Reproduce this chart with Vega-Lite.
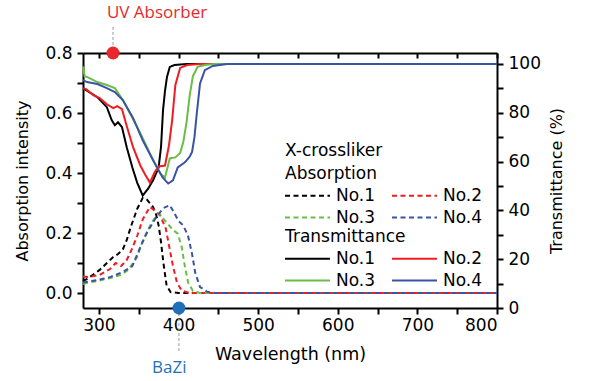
{
  "$schema": "https://vega.github.io/schema/vega-lite/v6.json",
  "width": 414,
  "height": 255,
  "autosize": "none",
  "padding": {"left": 83, "top": 53, "right": 104, "bottom": 73},
  "background": "white",
  "config": {
    "view": {"stroke": null},
    "axis": {
      "domainColor": "black", "domainWidth": 2, "tickColor": "black", "tickWidth": 2,
      "labelFont": "DejaVu Sans", "labelFontSize": 17, "labelColor": "black",
      "titleFont": "DejaVu Sans", "titleFontSize": 17, "titleFontWeight": "normal", "titleColor": "black",
      "grid": false
    }
  },
  "datasets": {
    "absorption": [
      {"s":"No.1","nm":280,"a":0.04},{"s":"No.1","nm":284,"a":0.045},{"s":"No.1","nm":292,"a":0.06},{"s":"No.1","nm":301,"a":0.077},{"s":"No.1","nm":310,"a":0.1},{"s":"No.1","nm":318,"a":0.12},{"s":"No.1","nm":324,"a":0.13},{"s":"No.1","nm":330,"a":0.145},{"s":"No.1","nm":335,"a":0.177},{"s":"No.1","nm":340,"a":0.22},{"s":"No.1","nm":348,"a":0.28},{"s":"No.1","nm":355,"a":0.317},{"s":"No.1","nm":360,"a":0.312},{"s":"No.1","nm":368,"a":0.287},{"s":"No.1","nm":372,"a":0.26},{"s":"No.1","nm":375,"a":0.225},{"s":"No.1","nm":378,"a":0.17},{"s":"No.1","nm":381,"a":0.1},{"s":"No.1","nm":385,"a":0.025},{"s":"No.1","nm":390,"a":0.003},{"s":"No.1","nm":400,"a":0},{"s":"No.1","nm":500,"a":0},{"s":"No.1","nm":650,"a":0},{"s":"No.1","nm":800,"a":0},
      {"s":"No.2","nm":280,"a":0.055},{"s":"No.2","nm":286,"a":0.053},{"s":"No.2","nm":301,"a":0.06},{"s":"No.2","nm":314,"a":0.08},{"s":"No.2","nm":321,"a":0.1},{"s":"No.2","nm":328,"a":0.09},{"s":"No.2","nm":335,"a":0.11},{"s":"No.2","nm":342,"a":0.15},{"s":"No.2","nm":348,"a":0.19},{"s":"No.2","nm":355,"a":0.245},{"s":"No.2","nm":364,"a":0.287},{"s":"No.2","nm":370,"a":0.275},{"s":"No.2","nm":377,"a":0.258},{"s":"No.2","nm":384,"a":0.215},{"s":"No.2","nm":389,"a":0.145},{"s":"No.2","nm":393,"a":0.09},{"s":"No.2","nm":398,"a":0.035},{"s":"No.2","nm":404,"a":0.008},{"s":"No.2","nm":414,"a":0},{"s":"No.2","nm":500,"a":0},{"s":"No.2","nm":650,"a":0},{"s":"No.2","nm":800,"a":0},
      {"s":"No.3","nm":280,"a":0.03},{"s":"No.3","nm":284,"a":0.033},{"s":"No.3","nm":298,"a":0.04},{"s":"No.3","nm":314,"a":0.05},{"s":"No.3","nm":327,"a":0.06},{"s":"No.3","nm":337,"a":0.077},{"s":"No.3","nm":348,"a":0.12},{"s":"No.3","nm":355,"a":0.173},{"s":"No.3","nm":364,"a":0.223},{"s":"No.3","nm":372,"a":0.258},{"s":"No.3","nm":376,"a":0.265},{"s":"No.3","nm":380,"a":0.25},{"s":"No.3","nm":386,"a":0.232},{"s":"No.3","nm":393,"a":0.21},{"s":"No.3","nm":399,"a":0.198},{"s":"No.3","nm":404,"a":0.153},{"s":"No.3","nm":408,"a":0.088},{"s":"No.3","nm":412,"a":0.035},{"s":"No.3","nm":418,"a":0.007},{"s":"No.3","nm":427,"a":0},{"s":"No.3","nm":500,"a":0},{"s":"No.3","nm":650,"a":0},{"s":"No.3","nm":800,"a":0},
      {"s":"No.4","nm":280,"a":0.035},{"s":"No.4","nm":284,"a":0.037},{"s":"No.4","nm":298,"a":0.043},{"s":"No.4","nm":314,"a":0.053},{"s":"No.4","nm":330,"a":0.07},{"s":"No.4","nm":342,"a":0.09},{"s":"No.4","nm":352,"a":0.153},{"s":"No.4","nm":360,"a":0.2},{"s":"No.4","nm":373,"a":0.257},{"s":"No.4","nm":381,"a":0.283},{"s":"No.4","nm":389,"a":0.293},{"s":"No.4","nm":395,"a":0.265},{"s":"No.4","nm":400,"a":0.24},{"s":"No.4","nm":406,"a":0.225},{"s":"No.4","nm":412,"a":0.19},{"s":"No.4","nm":417,"a":0.13},{"s":"No.4","nm":421,"a":0.067},{"s":"No.4","nm":427,"a":0.02},{"s":"No.4","nm":436,"a":0.004},{"s":"No.4","nm":446,"a":0},{"s":"No.4","nm":500,"a":0},{"s":"No.4","nm":650,"a":0},{"s":"No.4","nm":800,"a":0}
    ],
    "transmittance": [
      {"s":"No.1","nm":280,"t":90},{"s":"No.1","nm":284,"t":89.3},{"s":"No.1","nm":298,"t":86.4},{"s":"No.1","nm":310,"t":82.3},{"s":"No.1","nm":316,"t":77},{"s":"No.1","nm":320,"t":74.9},{"s":"No.1","nm":324,"t":76.1},{"s":"No.1","nm":329,"t":74.1},{"s":"No.1","nm":335,"t":65.8},{"s":"No.1","nm":342,"t":57.6},{"s":"No.1","nm":348,"t":51.4},{"s":"No.1","nm":355,"t":46.1},{"s":"No.1","nm":362,"t":49},{"s":"No.1","nm":368,"t":52.3},{"s":"No.1","nm":375,"t":57.6},{"s":"No.1","nm":378,"t":66},{"s":"No.1","nm":380.5,"t":81},{"s":"No.1","nm":383,"t":89},{"s":"No.1","nm":385.5,"t":94.7},{"s":"No.1","nm":389,"t":98.8},{"s":"No.1","nm":395,"t":99.6},{"s":"No.1","nm":410,"t":100},{"s":"No.1","nm":800,"t":100},
      {"s":"No.2","nm":280,"t":90},{"s":"No.2","nm":284,"t":89.7},{"s":"No.2","nm":293,"t":87.2},{"s":"No.2","nm":301,"t":86},{"s":"No.2","nm":310,"t":83.5},{"s":"No.2","nm":318,"t":81.9},{"s":"No.2","nm":323,"t":82.7},{"s":"No.2","nm":329,"t":81.5},{"s":"No.2","nm":335,"t":74.5},{"s":"No.2","nm":343,"t":65.8},{"s":"No.2","nm":352,"t":58.4},{"s":"No.2","nm":358,"t":54.7},{"s":"No.2","nm":364,"t":51.4},{"s":"No.2","nm":370,"t":55.6},{"s":"No.2","nm":375,"t":58},{"s":"No.2","nm":383,"t":58.4},{"s":"No.2","nm":388,"t":66.7},{"s":"No.2","nm":392,"t":77},{"s":"No.2","nm":396,"t":91.4},{"s":"No.2","nm":402,"t":98.4},{"s":"No.2","nm":411,"t":99.6},{"s":"No.2","nm":427,"t":100},{"s":"No.2","nm":800,"t":100},
      {"s":"No.3","nm":280,"t":99},{"s":"No.3","nm":282,"t":95},{"s":"No.3","nm":285,"t":94.7},{"s":"No.3","nm":298,"t":92.6},{"s":"No.3","nm":310,"t":91.4},{"s":"No.3","nm":320,"t":90.1},{"s":"No.3","nm":330,"t":85.2},{"s":"No.3","nm":339,"t":79.8},{"s":"No.3","nm":352,"t":71.6},{"s":"No.3","nm":364,"t":63.4},{"s":"No.3","nm":377,"t":55.1},{"s":"No.3","nm":383,"t":53.5},{"s":"No.3","nm":389,"t":61.3},{"s":"No.3","nm":396,"t":61.7},{"s":"No.3","nm":402,"t":63.5},{"s":"No.3","nm":406,"t":68},{"s":"No.3","nm":410,"t":76},{"s":"No.3","nm":414,"t":87},{"s":"No.3","nm":418,"t":95},{"s":"No.3","nm":424,"t":98.8},{"s":"No.3","nm":433,"t":99.6},{"s":"No.3","nm":445,"t":100},{"s":"No.3","nm":800,"t":100},
      {"s":"No.4","nm":280,"t":93.4},{"s":"No.4","nm":285,"t":92.6},{"s":"No.4","nm":298,"t":91.8},{"s":"No.4","nm":310,"t":90.1},{"s":"No.4","nm":320,"t":88.5},{"s":"No.4","nm":330,"t":85.2},{"s":"No.4","nm":343,"t":77.8},{"s":"No.4","nm":355,"t":68.7},{"s":"No.4","nm":368,"t":60.5},{"s":"No.4","nm":380,"t":53.5},{"s":"No.4","nm":387,"t":51},{"s":"No.4","nm":393,"t":52.3},{"s":"No.4","nm":399,"t":57.6},{"s":"No.4","nm":408,"t":59.7},{"s":"No.4","nm":414,"t":62},{"s":"No.4","nm":417,"t":64},{"s":"No.4","nm":420,"t":70},{"s":"No.4","nm":423,"t":80},{"s":"No.4","nm":427,"t":92},{"s":"No.4","nm":433,"t":97.5},{"s":"No.4","nm":443,"t":99.2},{"s":"No.4","nm":461,"t":100},{"s":"No.4","nm":800,"t":100}
    ],
    "markers": [
      {"label":"UV Absorber","nm":317.7,"v":0.8,"lineTop":0.887,"lineBottom":0.827,"textNm":310,"textV":0.918},
      {"label":"BaZi","nm":400.5,"v":-0.05,"lineTop":-0.067,"lineBottom":-0.2,"textNm":366.7,"textV":-0.267}
    ]
  },
  "layer": [
    {
      "data": {"name": "absorption"},
      "mark": {"type": "line", "strokeWidth": 2, "strokeDash": [5, 3.5]},
      "encoding": {
        "x": {"field": "nm", "type": "quantitative",
          "scale": {"domain": [280, 800], "nice": false, "zero": false},
          "axis": {"orient": "bottom", "values": [300,350,400,450,500,550,600,650,700,750,800],
            "labelExpr": "datum.value % 100 == 0 ? datum.label : ''", "format": "d",
            "tickSize": 6, "labelPadding": 3, "title": "Wavelength (nm)", "titleFontSize": 17.5, "titlePadding": 12}},
        "y": {"field": "a", "type": "quantitative",
          "scale": {"domain": [-0.05, 0.8], "nice": false, "zero": false},
          "axis": {"orient": "left", "values": [0,0.1,0.2,0.3,0.4,0.5,0.6,0.7,0.8],
            "labelExpr": "round(datum.value*10) % 2 == 0 ? datum.label : ''", "format": ".1f",
            "tickSize": 6, "labelPadding": 5, "title": "Absorption intensity", "titleFontSize": 16, "titlePadding": 14}},
        "color": {"field": "s", "type": "nominal",
          "scale": {"domain": ["No.1","No.3","No.2","No.4"], "range": ["#000000","#6abd45","#ee1d24","#3a53a4"]},
          "legend": {"title": ["X-crossliker", "Absorption"], "orient": "none", "legendX": 202, "legendY": 90,
            "columns": 2, "symbolType": "M-5,0L5,0", "symbolSize": 81, "symbolStrokeWidth": 2, "symbolDash": [5, 3.5],
            "symbolOffset": 14, "labelOffset": 20, "columnPadding": 12, "rowPadding": 4, "titlePadding": 4,
            "titleLineHeight": 23, "padding": 0, "labelFont": "DejaVu Sans", "labelFontSize": 17, "labelColor": "black",
            "titleFont": "DejaVu Sans", "titleFontSize": 17, "titleFontWeight": "normal", "titleColor": "black"}},
        "detail": {"field": "s"}
      }
    },
    {
      "data": {"name": "transmittance"},
      "mark": {"type": "line", "strokeWidth": 2},
      "encoding": {
        "x": {"field": "nm", "type": "quantitative",
          "scale": {"domain": [280, 800], "nice": false, "zero": false},
          "axis": {"orient": "top", "values": [300,350,400,450,500,550,600,650,700,750,800],
            "labels": false, "tickSize": -5, "title": null}},
        "y": {"field": "t", "type": "quantitative",
          "scale": {"domain": [0, 104.5], "nice": false, "zero": false},
          "axis": {"orient": "right", "values": [0,10,20,30,40,50,60,70,80,90,100],
            "labelExpr": "datum.value % 20 == 0 ? datum.label : ''",
            "tickSize": 6, "labelPadding": 5, "title": "Transmittance (%)", "titleFontSize": 16, "titleAngle": -90, "titlePadding": 24}},
        "color": {"field": "s", "type": "nominal",
          "scale": {"domain": ["No.1","No.3","No.2","No.4"], "range": ["#000000","#6abd45","#ee1d24","#3a53a4"]},
          "legend": {"title": "Transmittance", "orient": "none", "legendX": 202, "legendY": 176,
            "columns": 2, "symbolType": "M-5,0L5,0", "symbolSize": 81, "symbolStrokeWidth": 2,
            "symbolOffset": 14, "labelOffset": 20, "columnPadding": 12, "rowPadding": 4, "titlePadding": 4,
            "padding": 0, "labelFont": "DejaVu Sans", "labelFontSize": 17, "labelColor": "black",
            "titleFont": "DejaVu Sans", "titleFontSize": 17, "titleFontWeight": "normal", "titleColor": "black"}},
        "detail": {"field": "s"}
      }
    },
    {
      "data": {"name": "markers"},
      "layer": [
        {
          "mark": {"type": "rule", "color": "#9a9a9a", "strokeWidth": 1, "strokeDash": [3, 2]},
          "encoding": {
            "x": {"field": "nm", "type": "quantitative", "scale": {"domain": [280, 800], "nice": false, "zero": false}, "axis": null},
            "y": {"field": "lineTop", "type": "quantitative", "scale": {"domain": [-0.05, 0.8], "nice": false, "zero": false}, "axis": null},
            "y2": {"field": "lineBottom"}
          }
        },
        {
          "mark": {"type": "point", "shape": "circle", "filled": true, "size": 169, "opacity": 1},
          "encoding": {
            "x": {"field": "nm", "type": "quantitative", "axis": null},
            "y": {"field": "v", "type": "quantitative", "axis": null},
            "color": {"field": "label", "type": "nominal", "legend": null,
              "scale": {"domain": ["UV Absorber", "BaZi"], "range": ["#e8282b", "#1f6fba"]}}
          }
        },
        {
          "mark": {"type": "text", "align": "left", "baseline": "alphabetic", "font": "Open Sans", "fontSize": 17},
          "encoding": {
            "x": {"field": "textNm", "type": "quantitative", "axis": null},
            "y": {"field": "textV", "type": "quantitative", "axis": null},
            "text": {"field": "label"},
            "color": {"field": "label", "type": "nominal", "legend": null,
              "scale": {"domain": ["UV Absorber", "BaZi"], "range": ["#e8312b", "#4472c4"]}}
          }
        }
      ]
    }
  ],
  "resolve": {
    "scale": {"y": "independent", "color": "independent"},
    "axis": {"x": "independent"}
  }
}
